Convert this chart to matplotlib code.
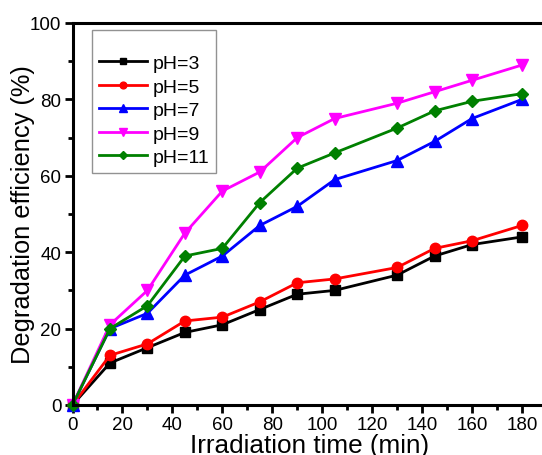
import numpy as np
import matplotlib.pyplot as plt

plt.rcParams['font.family'] = ['Liberation Sans', 'DejaVu Sans']

# data
time_min = [0, 15, 30, 45, 60, 75, 90, 105, 130, 145, 160, 180]
ph3 = [0, 11, 15, 19, 21, 25, 29, 30, 34, 39, 42, 44]
ph5 = [0, 13, 16, 22, 23, 27, 32, 33, 36, 41, 43, 47]
ph7 = [0, 20, 24, 34, 39, 47, 52, 59, 64, 69, 75, 80]
ph9 = [0, 21, 30, 45, 56, 61, 70, 75, 79, 82, 85, 89]
ph11 = [0, 20, 26, 39, 41, 53, 62, 66, 72.5, 77, 79.5, 81.5]

series = [
    ("pH=3", ph3, "black", "s", 6.5),
    ("pH=5", ph5, "red", "o", 7.5),
    ("pH=7", ph7, "blue", "^", 8),
    ("pH=9", ph9, "magenta", "v", 8),
    ("pH=11", ph11, "green", "D", 6.5),
]

W, H = 542, 456
fig = plt.figure(figsize=(W / 100, H / 100), dpi=100)
ax = fig.add_axes([72.5 / W, 50 / H, (547 - 72.5) / W, (406 - 24) / H])

for label, vals, col, mk, ms in series:
    ax.plot(time_min, vals, color=col, marker=mk, markersize=ms,
            linewidth=2, label=label, clip_on=False)

ax.set_xlim(0, 190)
ax.set_ylim(0, 100)
ax.set_xticks(np.arange(0, 181, 20))
ax.set_xticks(np.arange(10, 181, 20), minor=True)
ax.set_yticks(np.arange(0, 101, 20))
ax.set_yticks(np.arange(10, 100, 20), minor=True)

for s in ax.spines.values():
    s.set_linewidth(2.2)
ax.spines['right'].set_visible(False)

ax.tick_params(which='major', direction='out', length=6, width=2,
               labelsize=13.5, pad=2)
ax.tick_params(which='minor', direction='out', length=3.5, width=2)

ax.set_xlabel("Irradiation time (min)", fontsize=18.8)
ax.xaxis.set_label_coords(0.5, -0.072)
ax.set_ylabel("Degradation efficiency (%)", fontsize=18.3)
ax.yaxis.set_label_coords(-0.078, 0.5)

leg = fig.legend(loc='upper left', bbox_to_anchor=(92 / W, 1 - 31 / H),
                 fontsize=14, frameon=True, fancybox=False,
                 handlelength=2.5, handletextpad=0.25, labelspacing=0.3,
                 borderpad=0.35, borderaxespad=0, markerscale=0.65,
                 title=" ", title_fontsize=9)
leg.get_frame().set_edgecolor('#777777')
leg.get_frame().set_linewidth(1)

fig.savefig("out.png", dpi=100)
